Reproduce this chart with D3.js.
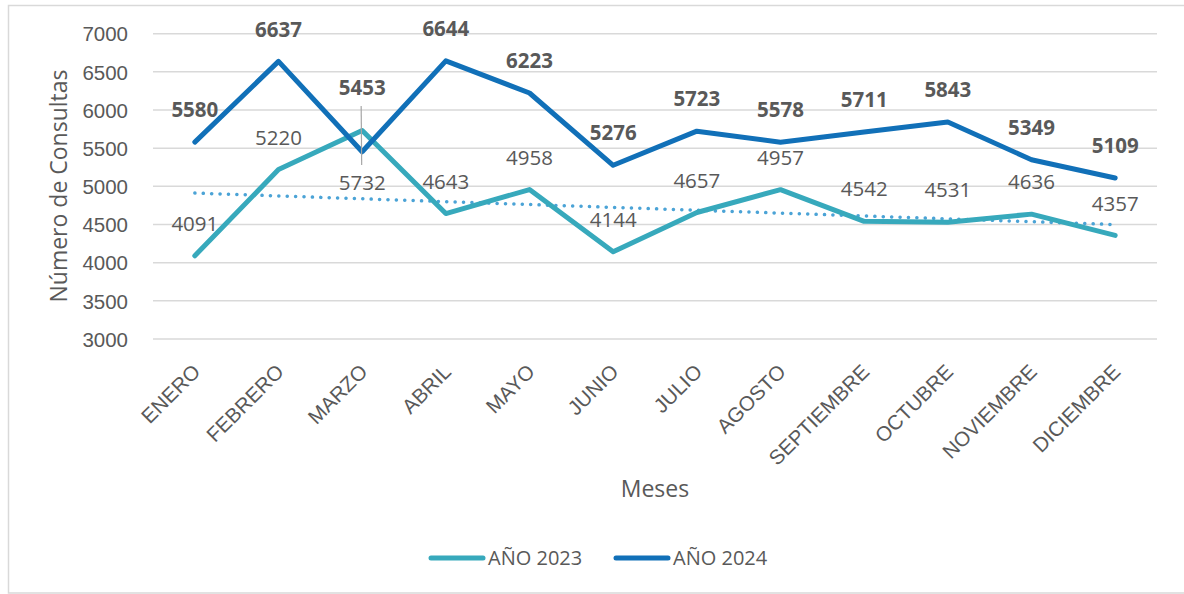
<!DOCTYPE html>
<html>
<head>
<meta charset="utf-8">
<script src="https://cdn.jsdelivr.net/npm/d3@7"></script>
<style>
  html, body { margin: 0; padding: 0; background: #fff; }
  svg { display: block; font-family: "Open Sans", "DejaVu Sans", sans-serif; }
</style>
</head>
<body>
<svg id="chart" width="1184" height="594"></svg>
<script>
// ---- data ----
const months = ["ENERO","FEBRERO","MARZO","ABRIL","MAYO","JUNIO","JULIO","AGOSTO","SEPTIEMBRE","OCTUBRE","NOVIEMBRE","DICIEMBRE"];
const values2023 = [4091,5220,5732,4643,4958,4144,4657,4957,4542,4531,4636,4357];
const values2024 = [5580,6637,5453,6644,6223,5276,5723,5578,5711,5843,5349,5109];
const yTicks = [3000,3500,4000,4500,5000,5500,6000,6500,7000];
const seriesNames = ["AÑO 2023","AÑO 2024"];

// ---- styles ----
const C2023 = "#37A9BC", C2024 = "#1170B8", CTREND = "#4BA3D6", TXT = "#595959", GRID = "#D9D9D9";

const svg = d3.select("#chart");

// chart border
svg.append("rect").attr("x",8.5).attr("y",5.5).attr("width",1190).attr("height",587.5)
  .attr("fill","none").attr("stroke",GRID).attr("stroke-width",1.5);

const x = d3.scalePoint().domain(months).range([153,1157]).padding(0.5);
const y = d3.scaleLinear().domain([3000,7000]).range([339,33.7]);

// gridlines
svg.append("g").selectAll("line").data(yTicks).join("line")
  .attr("x1",153).attr("x2",1157)
  .attr("y1",d=>y(d)).attr("y2",d=>y(d))
  .attr("stroke",GRID).attr("stroke-width",1.5);

// y axis
const yAxis = svg.append("g").attr("transform","translate(153,0)")
  .call(d3.axisLeft(y).tickValues(yTicks).tickSize(0).tickPadding(25).tickFormat(d3.format("d")));
yAxis.select(".domain").remove();
yAxis.selectAll("text").attr("fill",TXT).style("font-size","20.5px").attr("dy","0.35em");

// x axis labels
const xAxis = svg.append("g").attr("transform","translate(0,339)")
  .call(d3.axisBottom(x).tickSize(0).tickPadding(0));
xAxis.select(".domain").remove();
xAxis.selectAll("text")
  .attr("fill",TXT).style("font-size","20.5px")
  .attr("text-anchor","end")
  .attr("transform","translate(1,29) rotate(-45)")
  .attr("dy","0.35em").attr("y",0);

// axis titles
svg.append("text").attr("transform","translate(59,186) rotate(-90)")
  .attr("text-anchor","middle").attr("dy","0.35em")
  .attr("fill",TXT).style("font-size","23px").text("Número de Consultas");
svg.append("text").attr("x",655).attr("y",489).attr("text-anchor","middle").attr("dy","0.35em")
  .attr("fill",TXT).style("font-size","23px").text("Meses");

// trendline (linear least squares of 2023)
const n = values2023.length;
const xs = d3.range(n);
const mx = d3.mean(xs), my = d3.mean(values2023);
const slope = d3.sum(xs, i => (i-mx)*(values2023[i]-my)) / d3.sum(xs, i => (i-mx)*(i-mx));
const icpt = my - slope*mx;
svg.append("line")
  .attr("x1",x(months[0])).attr("x2",x(months[n-1]))
  .attr("y1",y(icpt)).attr("y2",y(icpt+slope*(n-1)))
  .attr("stroke",CTREND).attr("stroke-width",3.5).attr("stroke-linecap","round")
  .attr("stroke-dasharray","0.1 8.3");

const line = d3.line().x((d,i)=>x(months[i])).y(d=>y(d));
svg.append("path").datum(values2023).attr("d",line)
  .attr("fill","none").attr("stroke",C2023).attr("stroke-width",5)
  .attr("stroke-linejoin","round").attr("stroke-linecap","round");
svg.append("path").datum(values2024).attr("d",line)
  .attr("fill","none").attr("stroke",C2024).attr("stroke-width",5)
  .attr("stroke-linejoin","round").attr("stroke-linecap","round");

// leader line for moved label (MARZO)
const mIdx = 2;
svg.append("line").attr("x1",x(months[mIdx])-1).attr("x2",x(months[mIdx])-0.5)
  .attr("y1",106).attr("y2",165).attr("stroke","#A6A6A6").attr("stroke-width",1.2);

// data labels: centred 32px above points; MARZO labels moved
function labelOffset(series, i) {
  if (i === mIdx) return series === 2023 ? 52 : -64;
  return -32;
}
svg.append("g").selectAll("text").data(values2023).join("text")
  .attr("x",(d,i)=>x(months[i])).attr("y",(d,i)=>y(d)+labelOffset(2023,i))
  .attr("dy","0.35em").attr("text-anchor","middle")
  .attr("fill",TXT).style("font-size","20.5px").text(d=>d);
svg.append("g").selectAll("text").data(values2024).join("text")
  .attr("x",(d,i)=>x(months[i])).attr("y",(d,i)=>y(d)+labelOffset(2024,i))
  .attr("dy","0.35em").attr("text-anchor","middle")
  .attr("fill",TXT).style("font-size","20.5px").style("font-weight","bold").text(d=>d);

// legend
const legend = svg.append("g");
const legItems = [{name:seriesNames[0], color:C2023, x:429},{name:seriesNames[1], color:C2024, x:614}];
legItems.forEach(it=>{
  legend.append("line").attr("x1",it.x+2).attr("x2",it.x+54).attr("y1",558).attr("y2",558)
    .attr("stroke",it.color).attr("stroke-width",5).attr("stroke-linecap","round");
  legend.append("text").attr("x",it.x+59).attr("y",558).attr("dy","0.35em")
    .attr("fill",TXT).style("font-size","20px").text(it.name);
});
</script>
</body>
</html>
